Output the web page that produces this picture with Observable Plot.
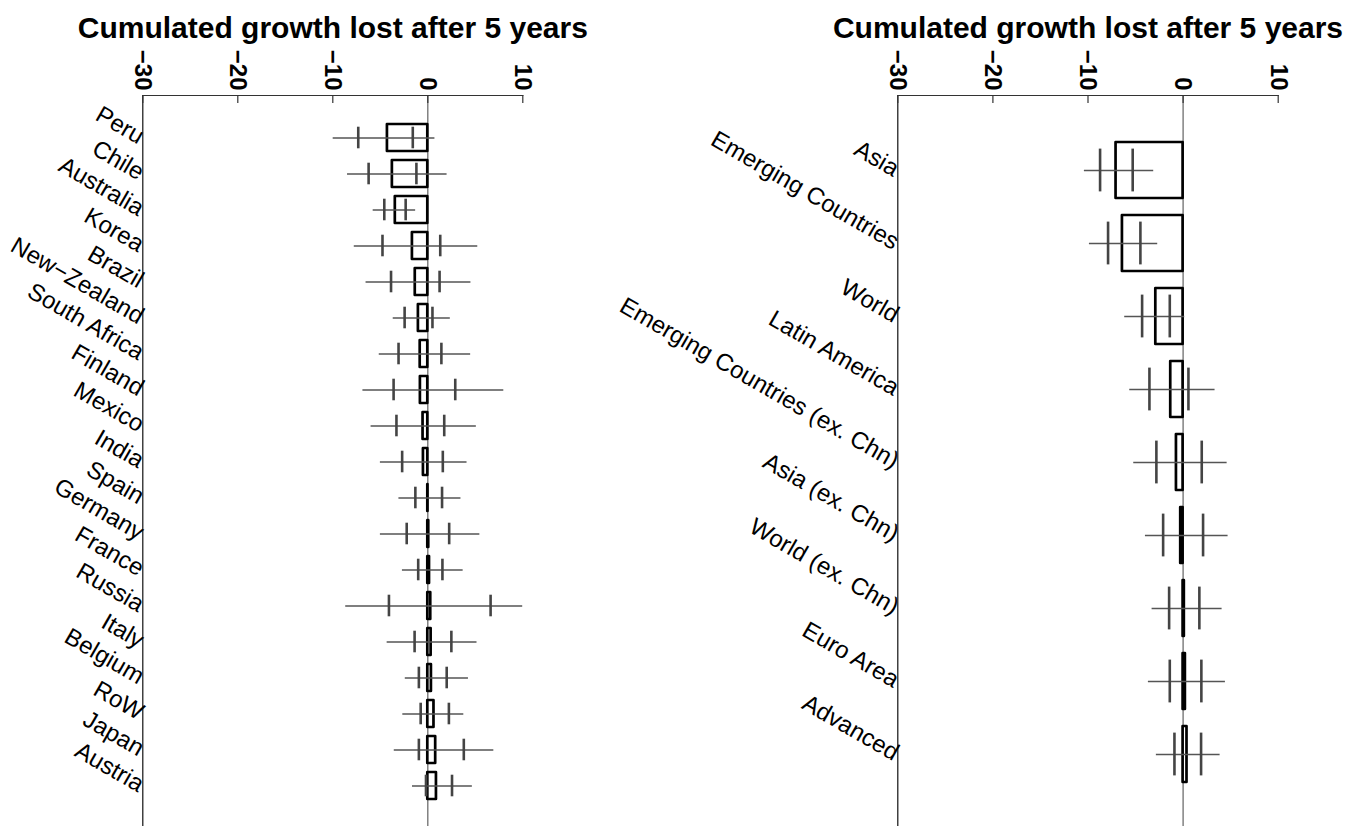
<!DOCTYPE html>
<html>
<head>
<meta charset="utf-8">
<script src="https://cdn.jsdelivr.net/npm/d3@7"></script>
<script src="https://cdn.jsdelivr.net/npm/@observablehq/plot@0.6"></script>
<style>
  html, body { margin: 0; padding: 0; background: #fff; }
  #wrap { display: flex; width: 1356px; height: 826px; overflow: hidden; }
</style>
</head>
<body>
<div id="wrap"></div>
<script>
// ---------- data ----------
const titleText = "Cumulated growth lost after 5 years";
const tickValues = [-30, -20, -10, 0, 10];
const tickLabels = ["\u221230", "\u221220", "\u221210", "0", "10"];

// Left panel: countries
const countries = ["Peru", "Chile", "Australia", "Korea", "Brazil", "New\u2212Zealand", "South Africa",
  "Finland", "Mexico", "India", "Spain", "Germany", "France", "Russia", "Italy", "Belgium",
  "RoW", "Japan", "Austria"];
const countryValue = [-4.25, -3.73, -3.42, -1.62, -1.32, -0.99, -0.80, -0.78, -0.50, -0.46,
  0.02, 0.10, 0.18, 0.31, 0.35, 0.38, 0.65, 0.83, 0.91];
const countryLow = [-9.96, -8.45, -5.75, -7.74, -6.50, -3.64, -5.11, -6.83, -5.97, -4.99,
  -3.04, -4.99, -2.67, -8.64, -4.28, -2.37, -2.63, -3.53, -1.61];
const countryHigh = [0.75, 2.03, -1.28, 5.26, 4.54, 2.37, 4.51, 8.00, 5.11, 4.13,
  3.49, 5.48, 3.72, 9.99, 5.18, 4.28, 3.79, 6.95, 4.69];
const countryInnerLow = [-7.32, -6.23, -4.58, -4.77, -3.87, -2.44, -3.08, -3.60, -3.30, -2.70,
  -1.31, -2.22, -1.01, -4.09, -1.39, -0.94, -0.75, -0.94, -0.19];
const countryInnerHigh = [-1.58, -1.20, -2.33, 1.31, 1.24, 0.49, 1.43, 2.89, 1.73, 1.58,
  1.50, 2.25, 1.54, 6.61, 2.48, 1.99, 2.22, 3.79, 2.55];

// Right panel: regions
const regions = ["Asia", "Emerging Countries", "World", "Latin America", "Emerging Countries (ex. Chn)",
  "Asia (ex. Chn)", "World (ex. Chn)", "Euro Area", "Advanced"];
const regionValue = [-7.05, -6.38, -2.87, -1.30, -0.70, -0.25, 0.13, 0.24, 0.41];
const regionLow = [-10.38, -9.85, -6.14, -5.61, -5.19, -3.96, -3.26, -3.65, -2.81];
const regionHigh = [-3.09, -2.67, 0.17, 3.36, 4.63, 4.73, 4.10, 4.45, 3.89];
const regionInnerLow = [-8.73, -7.89, -4.31, -3.54, -2.81, -2.10, -1.47, -1.40, -0.91];
const regionInnerHigh = [-5.30, -4.49, -1.40, 0.56, 1.96, 2.10, 1.71, 1.92, 1.89];

// ---------- chart builder ----------
const FONT = "'Liberation Sans', Arial, Helvetica, sans-serif";

function panel({names, value, low, high, innerLow, innerHigh, width, marginLeft, marginRight,
                yRange, paddingInner, tickInset, labelSize}) {
  const rows = names.map((n, i) => ({
    name: n, value: value[i], low: low[i], high: high[i], iLow: innerLow[i], iHigh: innerHigh[i]
  }));
  const H = 826, MT = 95;
  return Plot.plot({
    width, height: H,
    marginTop: MT, marginBottom: 0, marginLeft, marginRight,
    style: {fontFamily: FONT, background: "white", overflow: "visible"},
    x: {domain: [-30, 10], axis: null},
    y: {domain: names, range: yRange, paddingInner, paddingOuter: paddingInner / 2, axis: null},
    marks: [
      Plot.ruleX([0], {stroke: "#6e6e6e", strokeWidth: 1.3}),
      Plot.ruleX([-30], {stroke: "#111", strokeWidth: 1.2}),
      Plot.frame({anchor: "top", stroke: "#333", strokeWidth: 1.2}),
      Plot.tickX(tickValues, {x: d => d, stroke: "#333", strokeWidth: 1.2, insetBottom: H - MT - 8}),
      Plot.text(tickValues, {x: d => d, frameAnchor: "top", text: (d, i) => tickLabels[i],
        rotate: 90, textAnchor: "end", lineAnchor: "middle", dy: -5,
        fontSize: 24, fontWeight: "bold", fill: "#000"}),
      Plot.text([titleText], {frameAnchor: "top", text: d => d, dy: -58, lineAnchor: "bottom",
        fontSize: 30, fontWeight: "bold", fill: "#000"}),
      Plot.text(rows, {y: "name", text: "name", frameAnchor: "left", textAnchor: "end",
        lineAnchor: "middle", rotate: 30, dx: -1, fontSize: labelSize, fill: "#000"}),
      Plot.barX(rows, {y: "name", x1: "value", x2: 0, fill: "white", stroke: "#000",
        strokeWidth: 2.7, strokeLinejoin: "round"}),
      Plot.ruleY(rows, {y: "name", x1: "low", x2: "high", stroke: "#555", strokeWidth: 1.4}),
      Plot.tickX(rows, {y: "name", x: "iLow", stroke: "#444", strokeWidth: 2.6,
        insetTop: tickInset, insetBottom: tickInset}),
      Plot.tickX(rows, {y: "name", x: "iHigh", stroke: "#444", strokeWidth: 2.6,
        insetTop: tickInset, insetBottom: tickInset})
    ]
  });
}

const wrap = document.getElementById("wrap");
wrap.append(panel({
  names: countries, value: countryValue, low: countryLow, high: countryHigh,
  innerLow: countryInnerLow, innerHigh: countryInnerHigh,
  width: 678, marginLeft: 142.3, marginRight: 155.7,
  yRange: [113.4, 810.1], paddingInner: 0.255, tickInset: 2.7, labelSize: 24
}));
wrap.append(panel({
  names: regions, value: regionValue, low: regionLow, high: regionHigh,
  innerLow: regionInnerLow, innerHigh: regionInnerHigh,
  width: 678, marginLeft: 219.3, marginRight: 78.3,
  yRange: [132, 792], paddingInner: 0.228, tickInset: 6.6, labelSize: 24
}));
</script>
</body>
</html>
